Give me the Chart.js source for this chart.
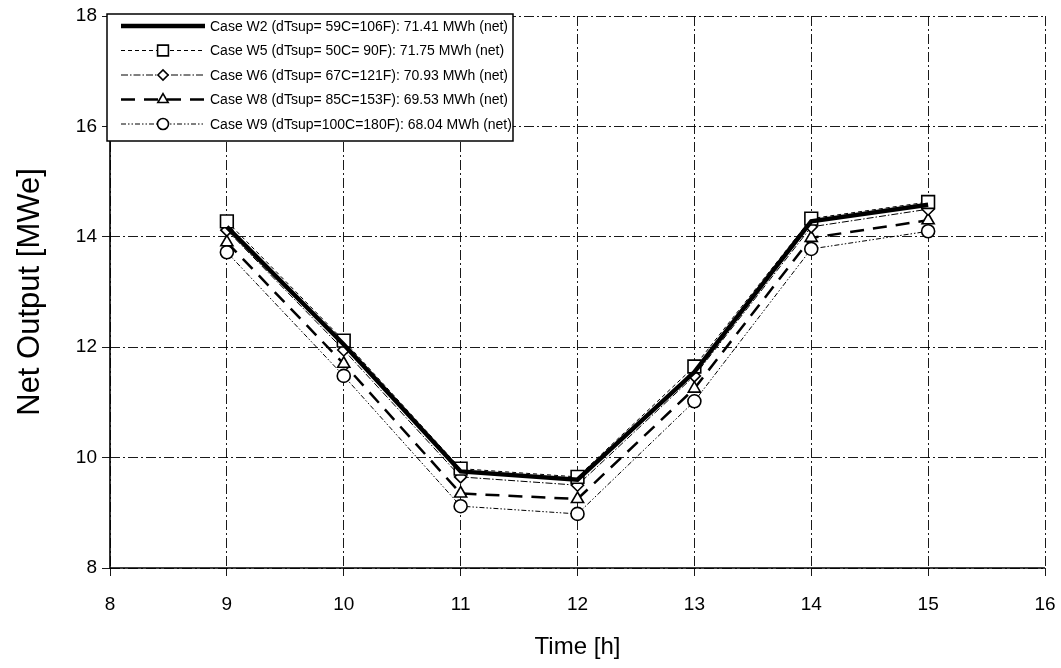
<!DOCTYPE html>
<html>
<head>
<meta charset="utf-8">
<script src="https://cdn.jsdelivr.net/npm/chart.js@4/dist/chart.umd.min.js"></script>
<style>
  html, body { margin: 0; padding: 0; background: #ffffff; }
  #wrap { width: 1061px; height: 668px; }
</style>
</head>
<body>
<div id="wrap"><canvas id="c" width="1061" height="668"></canvas></div>
<script>
const hours = [9, 10, 11, 12, 13, 14, 15];
const caseW2 = [14.18, 12.05, 9.75, 9.60, 11.55, 14.28, 14.58];
const caseW5 = [14.28, 12.12, 9.80, 9.65, 11.65, 14.33, 14.63];
const caseW6 = [14.12, 11.95, 9.65, 9.50, 11.48, 14.18, 14.50];
const caseW8 = [13.90, 11.70, 9.35, 9.25, 11.25, 13.98, 14.30];
const caseW9 = [13.72, 11.48, 9.12, 8.98, 11.02, 13.78, 14.10];
const seriesLabels = [
  'Case W2 (dTsup= 59C=106F): 71.41 MWh (net)',
  'Case W5 (dTsup= 50C= 90F): 71.75 MWh (net)',
  'Case W6 (dTsup= 67C=121F): 70.93 MWh (net)',
  'Case W8 (dTsup= 85C=153F): 69.53 MWh (net)',
  'Case W9 (dTsup=100C=180F): 68.04 MWh (net)'
];
const xTicks = [8, 9, 10, 11, 12, 13, 14, 15, 16];
const yTicks = [8, 10, 12, 14, 16, 18];

const pts = arr => hours.map((h, i) => ({x: h, y: arr[i]}));

const FONT = '"Liberation Sans", Arial, sans-serif';

const axisLinePlugin = {
  id: 'solidAxes',
  beforeDatasetsDraw(chart) {
    const {ctx, chartArea: a} = chart;
    ctx.save();
    ctx.strokeStyle = '#000';
    ctx.lineWidth = 1.6;
    ctx.setLineDash([]);
    ctx.beginPath();
    ctx.moveTo(a.left, a.top);
    ctx.lineTo(a.left, a.bottom);
    ctx.lineTo(a.right, a.bottom);
    ctx.stroke();
    ctx.restore();
  }
};

const legendPlugin = {
  id: 'boxLegend',
  afterDraw(chart) {
    const ctx = chart.ctx;
    const x0 = 107, y0 = 14, w = 406, h = 127;
    ctx.save();
    ctx.fillStyle = '#ffffff';
    ctx.fillRect(x0, y0, w, h);
    ctx.strokeStyle = '#000';
    ctx.lineWidth = 1.5;
    ctx.setLineDash([]);
    ctx.strokeRect(x0, y0, w, h);
    chart.data.datasets.forEach((ds, i) => {
      const yy = y0 + 12 + i * 24.5;
      ctx.save();
      ctx.strokeStyle = '#000';
      ctx.lineWidth = ds.borderWidth;
      ctx.setLineDash(ds.borderDash || []);
      ctx.beginPath();
      ctx.moveTo(121, yy);
      ctx.lineTo(205, yy);
      ctx.stroke();
      ctx.restore();
      if (ds.pointRadius > 0) {
        ctx.save();
        ctx.fillStyle = '#fff';
        ctx.strokeStyle = '#000';
        ctx.lineWidth = ds.pointBorderWidth;
        ctx.setLineDash([]);
        Chart.helpers.drawPoint(ctx, {
          pointStyle: ds.pointStyle,
          radius: ds.pointRadius * 0.85,
          borderWidth: ds.pointBorderWidth,
          rotation: 0
        }, 163, yy);
        ctx.restore();
      }
      ctx.fillStyle = '#000';
      ctx.font = '14px ' + FONT;
      ctx.textBaseline = 'middle';
      ctx.textAlign = 'left';
      ctx.fillText(ds.label, 210, yy + 1);
    });
    ctx.restore();
  }
};

const base = {
  borderColor: '#000',
  pointBorderColor: '#000',
  pointBackgroundColor: '#fff',
  backgroundColor: '#fff',
  fill: false,
  tension: 0,
  pointBorderWidth: 1.6
};

const datasets = [
  Object.assign({}, base, {label: seriesLabels[0], data: pts(caseW2), borderWidth: 4.5, borderDash: [], pointRadius: 0, pointStyle: 'circle'}),
  Object.assign({}, base, {label: seriesLabels[1], data: pts(caseW5), borderWidth: 1, borderDash: [4, 3], pointRadius: 9, pointStyle: 'rect'}),
  Object.assign({}, base, {label: seriesLabels[2], data: pts(caseW6), borderWidth: 1, borderDash: [7, 2, 1.5, 2], pointRadius: 6, pointStyle: 'rectRot'}),
  Object.assign({}, base, {label: seriesLabels[3], data: pts(caseW8), borderWidth: 2.5, borderDash: [14, 9], pointRadius: 7, pointStyle: 'triangle'}),
  Object.assign({}, base, {label: seriesLabels[4], data: pts(caseW9), borderWidth: 1, borderDash: [5, 2, 1.5, 2, 1.5, 2], pointRadius: 6.5, pointStyle: 'circle'})
];

const gridDash = [10, 3, 2, 3];

new Chart(document.getElementById('c'), {
  type: 'line',
  data: { datasets },
  plugins: [axisLinePlugin, legendPlugin],
  options: {
    responsive: false,
    animation: false,
    layout: { autoPadding: false, padding: { top: 16, right: 16, left: 0, bottom: 0 } },
    plugins: { legend: { display: false }, tooltip: { enabled: false } },
    scales: {
      x: {
        type: 'linear',
        min: 8, max: 16,
        afterBuildTicks: s => { s.ticks = xTicks.map(v => ({value: v})); },
        afterFit: s => { s.height = 100; s.paddingLeft = 0; s.paddingRight = 0; },
        border: { display: false, color: '#000', width: 1.5, dash: gridDash },
        grid: { color: '#000', lineWidth: 0.9, tickLength: 8, tickBorderDash: [] },
        ticks: { color: '#000', font: { family: FONT, size: 19 }, padding: 17, maxRotation: 0 },
        title: { display: true, text: 'Time [h]', color: '#000', font: { family: FONT, size: 24 }, padding: { top: 0, bottom: 6 } }
      },
      y: {
        min: 8, max: 18,
        afterBuildTicks: s => { s.ticks = yTicks.map(v => ({value: v})); },
        afterFit: s => { s.width = 110; s.paddingTop = 0; s.paddingBottom = 0; },
        border: { display: false, color: '#000', width: 1.5, dash: gridDash },
        grid: { color: '#000', lineWidth: 0.9, tickLength: 8, tickBorderDash: [] },
        ticks: { color: '#000', font: { family: FONT, size: 19 }, padding: 5 },
        title: { display: true, text: 'Net Output [MWe]', color: '#000', font: { family: FONT, size: 31 }, padding: { top: 12, bottom: 0 } }
      }
    }
  }
});
</script>
</body>
</html>
